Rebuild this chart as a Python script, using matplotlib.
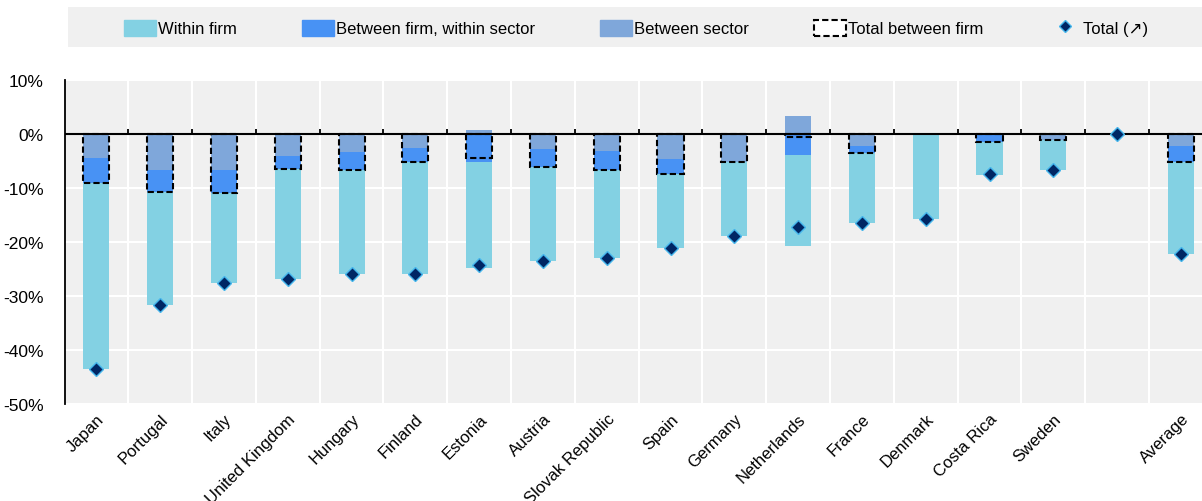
"""Decomposition of change: within firm vs between firm/sector, by country."""
import numpy as np
import matplotlib
matplotlib.use("Agg")
import matplotlib.pyplot as plt
import matplotlib.patches as mpatches
from matplotlib.lines import Line2D
from matplotlib.ticker import FuncFormatter

plt.rcParams["font.family"] = ["Liberation Sans", "DejaVu Sans"]

countries = ["Japan", "Portugal", "Italy", "United Kingdom", "Hungary", "Finland",
             "Estonia", "Austria", "Slovak Republic", "Spain", "Germany", "Netherlands",
             "France", "Denmark", "Costa Rica", "Sweden", "", "Average"]
within_firm = [-34.5, -20.9, -16.5, -20.4, -19.3, -20.7, -19.8, -17.3, -16.3, -13.8,
               -13.8, -17.0, -12.9, -15.8, -6.0, -5.4, 0.0, -17.1]
between_firm = [-4.5, -4.1, -4.3, -2.5, -3.3, -2.7, -5.1, -3.5, -3.6, -2.8,
                0.0, -3.8, -1.3, 0.0, -1.4, -0.1, 0.0, -2.8]
between_sector = [-4.5, -6.6, -6.7, -4.0, -3.3, -2.5, 0.7, -2.7, -3.1, -4.6,
                  -5.1, 3.3, -2.3, 0.0, -0.1, -1.1, 0.0, -2.3]
total = [-43.5, -31.6, -27.5, -26.9, -25.9, -25.9, -24.2, -23.5, -23.0, -21.2,
         -18.9, -17.3, -16.5, -15.8, -7.4, -6.6, 0.0, -22.2]

C_WITHIN = "#83d1e3"
C_BFIRM = "#4892f4"
C_BSECT = "#7fa7da"
C_TOTAL = "#002664"
C_TOTAL_EDGE = "#45b6ec"
BG = "#f0f0f0"
FS = 12

x = np.arange(len(countries))
width = 0.41

fig = plt.figure(figsize=(12.02, 5.02), dpi=100)
ax = fig.add_axes([64.5 / 1202, 1 - 405 / 502, (1202 - 64.5) / 1202, 324 / 502])
ax.set_facecolor(BG)

# stack components away from zero: sector first, then between firm, then within firm
pos_base = np.zeros(len(x))
neg_base = np.zeros(len(x))
for vals, color in [(between_sector, C_BSECT), (between_firm, C_BFIRM), (within_firm, C_WITHIN)]:
    v = np.array(vals)
    bottom = np.where(v >= 0, pos_base, neg_base)
    ax.bar(x, v, width, bottom=bottom, color=color, linewidth=0, zorder=2)
    pos_base = pos_base + np.clip(v, 0, None)
    neg_base = neg_base + np.clip(v, None, 0)

total_between = np.array(between_firm) + np.array(between_sector)
mask = total_between != 0
ax.bar(x[mask], total_between[mask], width, fill=False, edgecolor="black",
       linestyle=(0, (3, 1.5)), linewidth=1.5, zorder=3)

ax.plot(x, total, linestyle="none", marker="D", markersize=7, color=C_TOTAL,
        markeredgecolor=C_TOTAL_EDGE, markeredgewidth=1.0, zorder=5)

ax.axhline(0, color="black", linewidth=1.5, zorder=4)
ax.vlines(x[:-1] + 0.5, 0, 0.9, color="black", linewidth=1.3, zorder=4)

ax.set_xlim(-0.5, 17.33)
ax.set_ylim(-50, 10)
ax.set_yticks(np.arange(-50, 11, 10))
ax.yaxis.set_major_formatter(FuncFormatter(lambda v, _: f"{v:.0f}%"))
ax.set_yticks([-50, 10], minor=True)
ax.tick_params(axis="y", which="major", length=0, pad=15, labelsize=FS + 0.5)
ax.tick_params(axis="y", which="minor", direction="in", length=5, width=1.3)

ax.set_xticks(x)
ax.set_xticklabels(countries, rotation=45, ha="right", va="top",
                   rotation_mode="anchor", fontsize=FS)
ax.set_xticks(x[:-1] + 0.5, minor=True)
ax.tick_params(axis="x", which="both", length=0, pad=5)

ax.grid(which="minor", axis="x", color="white", linewidth=1.5, zorder=0)
ax.grid(which="major", axis="y", color="white", linewidth=1.5, zorder=0)
ax.set_axisbelow(True)
for side in ["top", "right", "bottom"]:
    ax.spines[side].set_visible(False)
ax.spines["left"].set_linewidth(1.3)

# legend strip
fig.patches.append(mpatches.Rectangle((68 / 1202, 1 - 48 / 502), (1202 - 68) / 1202, 40 / 502,
                                      transform=fig.transFigure, facecolor=BG,
                                      edgecolor="none", zorder=0))
handles = [
    mpatches.Patch(color=C_WITHIN, label="Within firm"),
    mpatches.Patch(color=C_BFIRM, label="Between firm, within sector"),
    mpatches.Patch(color=C_BSECT, label="Between sector"),
    mpatches.Patch(facecolor="white", edgecolor="black", linestyle=(0, (3, 1.5)),
                   linewidth=1.5, label="Total between firm"),
    Line2D([0], [0], linestyle="none", marker="D", markersize=6, color=C_TOTAL,
           markeredgecolor=C_TOTAL_EDGE, label="Total (\u2197)"),
]
fig.legend(handles=handles, loc="center", bbox_to_anchor=(636 / 1202, 1 - 29 / 502),
           ncol=5, frameon=False, fontsize=FS, handlelength=1.9, handleheight=1.1,
           handletextpad=0.15, columnspacing=3.9)

fig.savefig("out.png", dpi=100)
plt.close(fig)
